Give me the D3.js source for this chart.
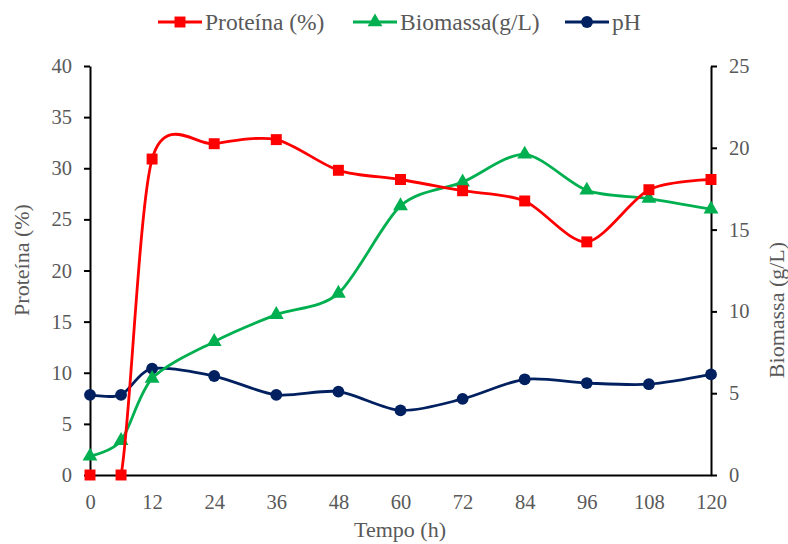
<!DOCTYPE html>
<html>
<head>
<meta charset="utf-8">
<script src="https://cdn.jsdelivr.net/npm/d3@7"></script>
<style>
  body { margin: 0; background: #fff; }
  text { font-family: "Liberation Serif", "Times New Roman", serif; fill: #595959; }
</style>
</head>
<body>
<svg width="788" height="544"></svg>
<script>
// data
var tempo = [0, 6, 12, 24, 36, 48, 60, 72, 84, 96, 108, 120];
var proteina = [0, 0, 30.9, 32.4, 32.8, 29.8, 28.9, 27.8, 26.8, 22.8, 27.9, 28.9];
var biomassa = [1.15, 2.1, 5.9, 8.15, 9.8, 11.1, 16.45, 17.9, 19.6, 17.4, 16.9, 16.25];
var ph = [4.9, 4.9, 6.5, 6.05, 4.9, 5.1, 3.95, 4.65, 5.85, 5.62, 5.55, 6.15];
var xTicks = [0, 12, 24, 36, 48, 60, 72, 84, 96, 108, 120];

var svg = d3.select("svg");
var plotL = 90, plotR = 711, plotT = 66, plotB = 475;

var x = d3.scaleLinear().domain([0, 120]).range([plotL, plotR]);
var yL = d3.scaleLinear().domain([0, 40]).range([plotB, plotT]);
var yR = d3.scaleLinear().domain([0, 25]).range([plotB, plotT]);

svg.append("clipPath").attr("id", "plot")
  .append("rect").attr("x", plotL).attr("y", plotT - 5).attr("width", plotR - plotL).attr("height", plotB - plotT + 5);

// axes
var gx = svg.append("g").attr("transform", "translate(0," + plotB + ")")
  .call(d3.axisBottom(x).tickValues(xTicks).tickSize(0).tickPadding(19));
var gl = svg.append("g").attr("transform", "translate(" + plotL + ",0)")
  .call(d3.axisLeft(yL).ticks(8).tickSize(6).tickSizeOuter(0).tickPadding(12));
var gr = svg.append("g").attr("transform", "translate(" + plotR + ",0)")
  .call(d3.axisRight(yR).ticks(5).tickSize(6).tickSizeOuter(0).tickPadding(12));

[gx, gl, gr].forEach(function(g){
  g.attr("font-family", null).attr("font-size", null);
  g.selectAll("path, line").attr("stroke", "#000").attr("stroke-width", 2);
  g.selectAll("text").style("font-size", "20.5px").attr("fill", "#595959");
});

// axis titles
svg.append("text").attr("x", 400).attr("y", 537).attr("text-anchor", "middle")
  .style("font-size", "22px").text("Tempo (h)");
svg.append("text").attr("transform", "translate(29,260) rotate(-90)").attr("text-anchor", "middle")
  .style("font-size", "22px").text("Proteína (%)");
svg.append("text").attr("transform", "translate(784,310) rotate(-90)").attr("text-anchor", "middle")
  .style("font-size", "22px").text("Biomassa (g/L)");

var series = [
  {name: "pH", values: ph, y: yR, color: "#002060", shape: d3.symbolCircle, size: 110},
  {name: "Biomassa(g/L)", values: biomassa, y: yR, color: "#00B050", shape: d3.symbolTriangle, size: 95},
  {name: "Proteína (%)", values: proteina, y: yL, color: "#FF0000", shape: d3.symbolSquare, size: 120}
];

series.forEach(function(s){
  var pts = tempo.map(function(t, i){ return [x(t), s.y(s.values[i])]; });
  var line = d3.line().curve(d3.curveCardinal.tension(0.15));
  svg.append("path").attr("d", line(pts)).attr("fill", "none")
    .attr("stroke", s.color).attr("stroke-width", 2.8).attr("clip-path", "url(#plot)");
  svg.selectAll(null).data(pts).join("path")
    .attr("transform", function(d){ return "translate(" + d[0] + "," + d[1] + ")"; })
    .attr("d", d3.symbol().type(s.shape).size(s.size))
    .attr("fill", s.color);
});

// legend
var legend = [
  {name: "Proteína (%)", color: "#FF0000", shape: d3.symbolSquare, size: 120, x: 158},
  {name: "Biomassa(g/L)", color: "#00B050", shape: d3.symbolTriangle, size: 95, x: 353},
  {name: "pH", color: "#002060", shape: d3.symbolCircle, size: 110, x: 565}
];
var lg = svg.selectAll(".leg").data(legend).join("g")
  .attr("transform", function(d){ return "translate(" + d.x + ",22)"; });
lg.append("line").attr("x1", 0).attr("x2", 44).attr("stroke", function(d){ return d.color; }).attr("stroke-width", 2.8);
lg.append("path").attr("transform", "translate(22,0)")
  .attr("d", function(d){ return d3.symbol().type(d.shape).size(d.size)(); })
  .attr("fill", function(d){ return d.color; });
lg.append("text").attr("x", 47).attr("y", 8).style("font-size", "23.5px").text(function(d){ return d.name; });
</script>
</body>
</html>
